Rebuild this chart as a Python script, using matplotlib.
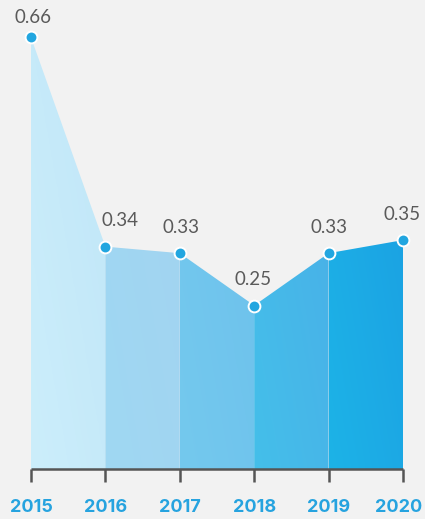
import matplotlib.pyplot as plt
import numpy as np
from matplotlib.colors import LinearSegmentedColormap
from matplotlib.patches import Polygon

# data
years = ["2015", "2016", "2017", "2018", "2019", "2020"]
values = [0.66, 0.34, 0.33, 0.25, 0.33, 0.35]

# colours of each area segment (top-left -> bottom-right)
seg_colors = [
    ("#c0e6f8", "#cceefb"),
    ("#a3d3f0", "#9fd8f3"),
    ("#6cc0ec", "#74c9ee"),
    ("#4aaee7", "#44bfea"),
    ("#1b9ee2", "#1db3e7"),
]
label_dx = [2, 15, 1, -1, 0, -1]  # pixel nudges of value labels
year_dx = [0, 0, 0, 0, 0, -4]     # keep last year inside the picture

W, H = 425, 519
px_x = 74.4   # pixels per year step
px_y = 654.0  # pixels per unit
x0_px, y0_px = 31, 469  # pixel position of (0, 0)

fig = plt.figure(figsize=(W / 100, H / 100), dpi=100, facecolor="#f2f2f2")
ax = fig.add_axes([0, 0, 1, 1])
ax.set_facecolor("#f2f2f2")
ax.set_xlim(-x0_px / px_x, (W - x0_px) / px_x)
ax.set_ylim(-(H - y0_px) / px_y, y0_px / px_y)
ax.axis("off")

x = np.arange(len(values))
ymax = max(values)

# gradient-filled segments
g = np.linspace(0, 1, 64)
grad = (g[None, :] + g[::-1][:, None]) / 2
for i in range(len(values) - 1):
    verts = [(x[i], 0), (x[i], values[i]), (x[i + 1], values[i + 1]), (x[i + 1], 0)]
    poly = Polygon(verts, closed=True, facecolor="none", edgecolor="none")
    ax.add_patch(poly)
    cmap = LinearSegmentedColormap.from_list("s%d" % i, [seg_colors[i][1], seg_colors[i][0]])
    im = ax.imshow(grad, cmap=cmap, extent=[x[i], x[i + 1], 0, ymax],
                   origin="upper", aspect="auto", zorder=1)
    im.set_clip_path(poly)

# points
ax.plot(x, values, linestyle="none", marker="o", markersize=8.5,
        markerfacecolor="#22a6e0", markeredgecolor="white",
        markeredgewidth=1.4, zorder=4)

# value labels
for i, v in enumerate(values):
    dy = 26 if i > 0 else 20
    ax.annotate(f"{v:.2f}", (x[i], v), xytext=(label_dx[i] * 0.72, dy * 0.72),
                textcoords="offset points", ha="center", va="center",
                fontsize=13.5, color="#5a5a5a", family="Lato")

# baseline and ticks
ax.plot([x[0], x[-1]], [0, 0], color="#555555", linewidth=1.8,
        solid_capstyle="butt", zorder=3)
ax.vlines(x, 0, -13 / px_y, color="#555555", linewidth=1.8, zorder=3)

# year labels
for i, yr in enumerate(years):
    ax.annotate(yr, (x[i], 0), xytext=(year_dx[i] * 0.72, -39 * 0.72),
                textcoords="offset points", ha="center", va="center",
                fontsize=13, fontweight="bold", color="#26a3df", family="Inter")

fig.savefig("out.png", dpi=100, facecolor="#f2f2f2")
